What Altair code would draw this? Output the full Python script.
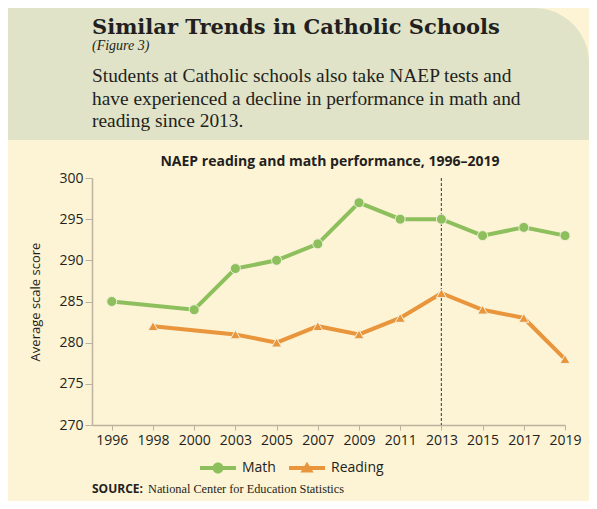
import pandas as pd
import altair as alt

# data
years = ["1996", "1998", "2000", "2003", "2005", "2007", "2009", "2011", "2013", "2015", "2017", "2019"]
math_scores = [285, None, 284, 289, 290, 292, 297, 295, 295, 293, 294, 293]
reading_scores = [None, 282, None, 281, 280, 282, 281, 283, 286, 284, 283, 278]
series = ["Math", "Reading"]
series_colors = ["#8dbf5d", "#e8953b"]
series_shapes = ["circle", "triangle-up"]
y_ticks = [270, 275, 280, 285, 290, 295, 300]
marker_year = "2013"

headline = "Similar Trends in Catholic Schools"
figure_tag = "(Figure 3)"
blurb = [
    "Students at Catholic schools also take NAEP tests and",
    "have experienced a decline in performance in math and",
    "reading since 2013.",
]
chart_title = "NAEP reading and math performance, 1996–2019"
y_title = "Average scale score"
source_label = "SOURCE:"
source_text = "National Center for Education Statistics"

INK = "#231f20"
CREAM = "#fdf3d5"
SAGE = "#e0e3c7"
AXIS_GRAY = "#bcb29f"
SANS = "Open Sans"
SERIF = "Liberation Serif"

W, H = 473, 247

rows = []
for name, shape, values in zip(series, series_shapes, [math_scores, reading_scores]):
    for i, v in enumerate(values):
        if v is not None:
            rows.append({"idx": i, "year": years[i], "series": name, "marker": shape, "score": v})
df = pd.DataFrame(rows)

year_lookup = "[" + ",".join(f"'{y}'" for y in years) + "]"

x_enc = alt.X(
    "idx:Q",
    scale=alt.Scale(domain=[-0.48, len(years) - 1], nice=False, zero=False),
    axis=alt.Axis(
        values=list(range(len(years))), labelExpr=f"{year_lookup}[datum.value]",
        labelOverlap=False, labelFlush=False, grid=False, title=None,
        domainColor=AXIS_GRAY, domainWidth=1.5, tickColor=AXIS_GRAY, tickSize=5, labelPadding=3,
        labelFont=SANS, labelFontSize=14, labelColor=INK,
    ),
)
y_enc = alt.Y(
    "score:Q",
    scale=alt.Scale(domain=[270, 300], nice=False, zero=False),
    axis=alt.Axis(
        values=y_ticks, grid=False, title=y_title, domainColor=AXIS_GRAY, domainWidth=1.5,
        tickColor=AXIS_GRAY, tickSize=7, labelPadding=2,
        labelFont=SANS, labelFontSize=14, labelColor=INK,
        titleFont=SANS, titleFontSize=13, titleFontWeight="normal", titleColor=INK,
        titlePadding=16,
    ),
)
color_scale = alt.Scale(domain=series, range=series_colors)

# legend symbols: a short stroke with the marker on it
math_sym = "M-1.8,-0.2H1.8V0.2H-1.8Z M0.55,0A0.55,0.55 0 1,1 -0.55,0A0.55,0.55 0 1,1 0.55,0Z"
read_sym = "M-1.8,-0.2H1.8V0.2H-1.8Z M0,-0.62L0.66,0.45L-0.66,0.45Z"
legend = alt.Legend(
    orient="none", legendX=116, legendY=280, direction="horizontal", title=None,
    symbolSize=400, symbolOpacity=1, symbolStrokeWidth=0, labelOffset=14, columnPadding=13,
    labelFont=SANS, labelFontSize=14, labelColor=INK,
)


def label(text, x, y, **kw):
    return alt.Chart(pd.DataFrame({"t": [text]})).mark_text(
        align=kw.pop("align", "left"), baseline="alphabetic", color=INK, **kw
    ).encode(x=alt.value(x), y=alt.value(y), text="t:N")


header = alt.Chart(pd.DataFrame({"k": [0]})).mark_rect(
    color=SAGE, cornerRadiusTopRight=55
).encode(x=alt.value(-84), x2=alt.value(497), y=alt.value(-170), y2=alt.value(-38))

headline_txt = label(headline, 0, -144, font="DejaVu Serif", fontSize=21, fontWeight="bold")
figure_txt = label(figure_tag, 0, -128, font=SERIF, fontSize=14, fontStyle="italic")
blurb_txt = alt.Chart(pd.DataFrame({"k": [0]})).mark_text(
    align="left", baseline="alphabetic", color=INK, font=SERIF, fontSize=19.4, lineHeight=22.5
).encode(x=alt.value(0), y=alt.value(-96), text=alt.value(blurb))
title_txt = label(chart_title, 238, -12, align="center", font=SANS, fontSize=14, fontWeight="bold")
source_lbl = label(source_label, 0, 315, font=SANS, fontSize=12, fontWeight="bold")
source_txt = label(source_text, 56, 315, font=SERIF, fontSize=12.3)

rule = alt.Chart(pd.DataFrame({"idx": [years.index(marker_year)]})).mark_rule(
    color="#555555", strokeDash=[3, 2], strokeWidth=1.2
).encode(x="idx:Q", y=alt.value(0), y2=alt.value(H))

base = alt.Chart(df)
lines = base.mark_line(strokeWidth=4).encode(
    x=x_enc, y=y_enc, color=alt.Color("series:N", scale=color_scale, legend=legend)
)
points = base.mark_point(filled=True, size=100, opacity=1, stroke="#f4f1dc", strokeWidth=1).encode(
    x=x_enc,
    y=y_enc,
    color=alt.Color("series:N", scale=color_scale, legend=legend),
    shape=alt.Shape("marker:N", scale=None),
    tooltip=["year:N", "series:N", "score:Q"],
)
# invisible copy that only carries the legend shapes (line + marker symbols)
legend_layer = base.mark_point(filled=True, opacity=0).encode(
    x=x_enc,
    y=y_enc,
    color=alt.Color("series:N", scale=color_scale, legend=legend),
    shape=alt.Shape("series:N", scale=alt.Scale(domain=series, range=[math_sym, read_sym]), legend=legend),
)

chart = alt.layer(
    header, headline_txt, figure_txt, blurb_txt, title_txt, source_lbl, source_txt,
    rule, lines, points, legend_layer,
).properties(
    width=W,
    height=H,
    padding={"left": 84, "top": 170, "right": 24, "bottom": 76},
    autosize=alt.AutoSizeParams(type="none"),
    background=CREAM,
).configure_view(stroke=None)

chart.save("out.html", embed_options={"renderer": "svg", "actions": False})
